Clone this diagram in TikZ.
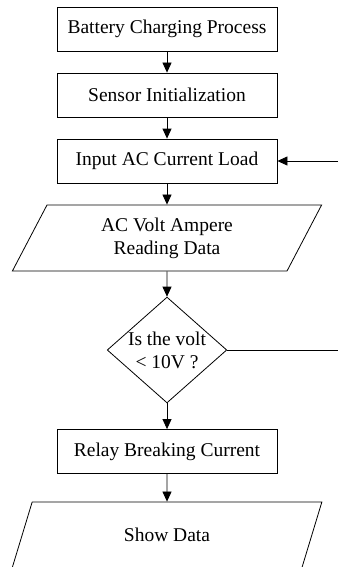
\documentclass[tikz,border=0pt]{standalone}
\usepackage{fontspec}
\setmainfont{Liberation Serif}
\usetikzlibrary{shapes.geometric,arrows.meta}
\tikzset{
  procbox/.style={draw, line width=0.8pt, minimum width=220pt, minimum height=44pt, inner sep=0pt},
  databox/.style={draw, line width=0.8pt, trapezium, trapezium left angle=65, trapezium right angle=115,
    trapezium stretches=true, minimum width=310pt, minimum height=66pt, inner sep=0pt, align=center},
  testbox/.style={draw, line width=0.8pt, diamond, aspect=1.13, minimum width=119pt, minimum height=105pt,
    inner sep=0pt, align=center},
  flow/.style={line width=0.8pt, -{Triangle[width=9pt,length=10pt]}}
}
\begin{document}
\begin{tikzpicture}[x=1pt,y=-1pt,font=\fontsize{19.5}{23}\selectfont]
\useasboundingbox (0,0) rectangle (338,567);
\clip (0,0) rectangle (338,567);

\node[procbox] (charge) at (167,29) {Battery Charging Process};
\node[procbox] (sensor) at (167,95) {Sensor Initialization};
\node[procbox] (input) at (167,161) {Input AC Current Load};
\node[databox] (read) at (167,238) {AC Volt Ampere\\Reading Data};
\node[testbox] (check) at (167,350) {Is the volt\\< 10V ?};
\node[procbox] (relay) at (167,451.5) {Relay Breaking Current};
\node[databox] (show) at (167,535) {Show Data};

\coordinate (backin) at (338,161);
\coordinate (backout) at (338,350);

\draw[flow] (charge) -- (sensor);
\draw[flow] (sensor) -- (input);
\draw[flow] (input) -- (read);
\draw[flow] (read) -- (check);
\draw[flow] (check) -- (relay);
\draw[flow] (relay) -- (show);
\draw[flow] (backin) -- (input);
\draw[line width=0.8pt] (check.east) -- (backout);
\end{tikzpicture}
\end{document}
